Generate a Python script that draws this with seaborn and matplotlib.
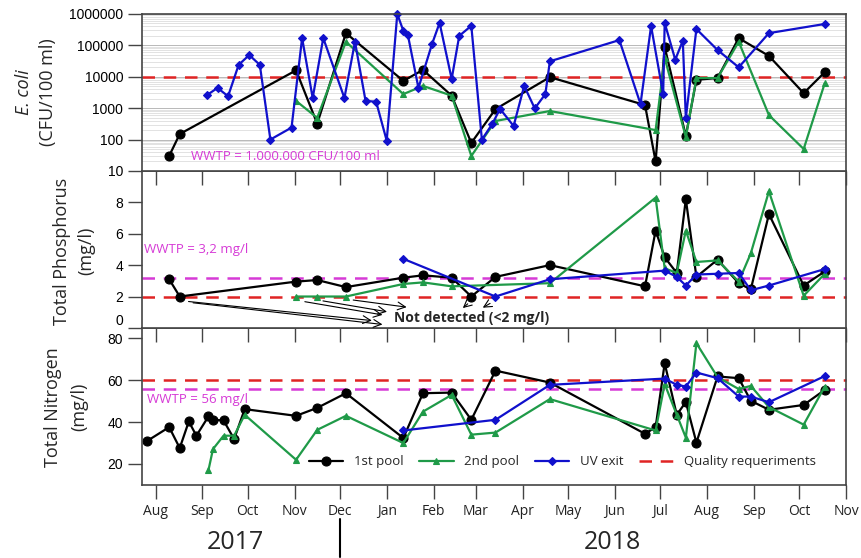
import pandas as pd
import numpy as np
import seaborn as sns
import matplotlib.pyplot as plt
import matplotlib.dates as mdates
from matplotlib.ticker import FuncFormatter, FixedLocator, NullFormatter, LogLocator

# ---------------- data ----------------
# E. coli (CFU/100 ml)
ec_pool1_dates = ["2017-08-10", "2017-08-17", "2017-11-02", "2017-11-16", "2017-12-05", "2018-01-12",
                  "2018-01-25", "2018-02-13", "2018-02-26", "2018-03-14", "2018-04-19", "2018-06-21",
                  "2018-06-28", "2018-07-04", "2018-07-18", "2018-07-25", "2018-08-08", "2018-08-22",
                  "2018-09-11", "2018-10-04", "2018-10-18"]
ec_pool1 = [30, 150, 16000, 320, 245000, 7400, 16500, 2500, 78, 930, 9700, 1250,
            20, 89000, 130, 8000, 9100, 170000, 46000, 3000, 14000]

ec_pool2_dates = ["2017-11-02", "2017-11-16", "2017-12-05", "2018-01-12", "2018-01-25", "2018-02-13",
                  "2018-02-26", "2018-03-14", "2018-04-19", "2018-06-28", "2018-07-04", "2018-07-18",
                  "2018-07-25", "2018-08-08", "2018-08-22", "2018-09-11", "2018-10-04", "2018-10-18"]
ec_pool2 = [1700, 490, 130000, 2800, 5100, 2500, 30, 390, 810, 200, 40000, 120,
            9100, 9100, 130000, 600, 50, 6300]

ec_uv_dates = ["2017-09-04", "2017-09-11", "2017-09-18", "2017-09-25", "2017-10-02", "2017-10-09",
               "2017-10-16", "2017-10-30", "2017-11-06", "2017-11-13", "2017-11-20", "2017-12-04",
               "2017-12-11", "2017-12-18", "2017-12-25", "2018-01-01", "2018-01-08", "2018-01-12",
               "2018-01-15", "2018-01-22", "2018-01-31", "2018-02-05", "2018-02-13", "2018-02-18",
               "2018-02-26", "2018-03-05", "2018-03-12", "2018-03-17", "2018-03-26", "2018-04-02",
               "2018-04-09", "2018-04-16", "2018-04-19", "2018-06-04", "2018-06-18", "2018-06-25",
               "2018-07-03", "2018-07-04", "2018-07-11", "2018-07-16", "2018-07-18", "2018-07-25",
               "2018-08-08", "2018-08-22", "2018-09-11", "2018-10-18"]
ec_uv = [2600, 4400, 2400, 24000, 49000, 24000, 100, 240, 170000, 2100, 170000, 2100,
         130000, 1700, 1600, 92, 1000000, 290000, 215000, 4400, 110000, 520000, 8500, 200000,
         420000, 100, 320, 950, 270, 5100, 980, 2800, 31000, 147000, 1350, 410000,
         2800, 520000, 35000, 140000, 490, 330000, 71000, 20000, 245000, 480000]

# Total phosphorus (mg/l)
tp_pool1_dates = ["2017-08-10", "2017-08-17", "2017-11-02", "2017-11-16", "2017-12-05", "2018-01-12",
                  "2018-01-25", "2018-02-13", "2018-02-26", "2018-03-14", "2018-04-19", "2018-06-21",
                  "2018-06-28", "2018-07-04", "2018-07-12", "2018-07-18", "2018-07-25", "2018-08-08",
                  "2018-08-22", "2018-08-30", "2018-09-11", "2018-10-04", "2018-10-18"]
tp_pool1 = [3.1, 2.0, 2.95, 3.05, 2.6, 3.2, 3.35, 3.2, 2.0, 3.25, 4.0, 2.65,
            6.2, 4.5, 3.5, 8.2, 3.25, 4.35, 2.85, 2.45, 7.25, 2.7, 3.6]

tp_pool2_dates = ["2017-11-02", "2017-11-16", "2017-12-05", "2018-01-12", "2018-01-25", "2018-02-13",
                  "2018-04-19", "2018-06-28", "2018-07-04", "2018-07-12", "2018-07-18", "2018-07-25",
                  "2018-08-08", "2018-08-22", "2018-08-30", "2018-09-11", "2018-10-04", "2018-10-18"]
tp_pool2 = [2.0, 2.0, 2.0, 2.8, 2.9, 2.65, 2.85, 8.3, 3.8, 3.5, 6.2, 4.2,
            4.3, 2.95, 4.75, 8.7, 2.05, 3.45]

tp_uv_dates = ["2018-01-12", "2018-03-14", "2018-04-19", "2018-07-04", "2018-07-12", "2018-07-18",
               "2018-07-25", "2018-08-08", "2018-08-22", "2018-08-30", "2018-09-11", "2018-10-18"]
tp_uv = [4.4, 2.0, 3.1, 3.65, 3.25, 2.7, 3.4, 3.45, 3.5, 2.4, 2.7, 3.75]

# Total nitrogen (mg/l)
tn_pool1_dates = ["2017-07-26", "2017-08-10", "2017-08-17", "2017-08-23", "2017-08-28", "2017-09-05",
                  "2017-09-08", "2017-09-15", "2017-09-22", "2017-09-29", "2017-11-02", "2017-11-16",
                  "2017-12-05", "2018-01-12", "2018-01-25", "2018-02-13", "2018-02-26", "2018-03-14",
                  "2018-04-19", "2018-06-21", "2018-06-28", "2018-07-04", "2018-07-12", "2018-07-18",
                  "2018-07-25", "2018-08-08", "2018-08-22", "2018-08-30", "2018-09-11", "2018-10-04",
                  "2018-10-18"]
tn_pool1 = [30.8, 37.6, 27.6, 40.3, 33.5, 42.7, 41.1, 40.8, 31.9, 46.2, 43.0, 46.8,
            53.8, 32.4, 53.8, 54.1, 41.1, 64.6, 58.9, 34.4, 37.6, 68.1, 43.5, 49.6,
            30.2, 61.8, 61.0, 50.2, 45.9, 48.2, 55.4]

tn_pool2_dates = ["2017-09-05", "2017-09-08", "2017-09-15", "2017-09-22", "2017-09-29", "2017-11-02",
                  "2017-11-16", "2017-12-05", "2018-01-12", "2018-01-25", "2018-02-13", "2018-02-26",
                  "2018-03-14", "2018-04-19", "2018-06-28", "2018-07-04", "2018-07-12", "2018-07-18",
                  "2018-07-25", "2018-08-08", "2018-08-22", "2018-08-30", "2018-09-11", "2018-10-04",
                  "2018-10-18"]
tn_pool2 = [17.0, 27.1, 33.5, 33.5, 43.5, 22.0, 36.3, 43.0, 30.0, 45.0, 53.0, 34.0,
            35.0, 51.0, 36.0, 58.2, 43.5, 32.6, 77.7, 61.5, 55.8, 57.3, 47.2, 38.8, 57.0]

tn_uv_dates = ["2018-01-12", "2018-03-14", "2018-04-19", "2018-07-04", "2018-07-12", "2018-07-18",
               "2018-07-25", "2018-08-08", "2018-08-22", "2018-08-30", "2018-09-11", "2018-10-18"]
tn_uv = [36.0, 41.1, 57.8, 60.8, 57.8, 57.0, 63.7, 61.0, 52.2, 52.2, 49.5, 62.0]

# limits
ec_quality = 10000
tp_quality, tp_wwtp = 2.0, 3.2
tn_quality, tn_wwtp = 60, 56

series_names = ["1st pool", "2nd pool", "UV exit"]
quality_label = "Quality requeriments"

# ---------------- style ----------------
sns.set_theme(style="ticks")
plt.rcParams['font.family'] = ['Open Sans', 'DejaVu Sans']
plt.rcParams['axes.edgecolor'] = '#444444'
plt.rcParams['xtick.color'] = '#444444'
plt.rcParams['ytick.color'] = '#444444'

c_black, c_green, c_blue = "black", "#1f9a48", "#1010cc"
c_red, c_mag = "#e02424", "#d63ad6"
styles = [dict(color=c_black, marker="o", markersize=6.5),
          dict(color=c_green, marker="^", markersize=5),
          dict(color=c_blue, marker="D", markersize=4.5)]
dash = (0, (5, 3.5))

fig, axes = plt.subplots(3, 1, figsize=(8.62, 5.58), dpi=100, sharex=True)
fig.subplots_adjust(left=0.1647, right=0.9814, top=0.975, bottom=0.131, hspace=0)


def draw(ax, groups):
    for (dates, vals), name, st in zip(groups, series_names, styles):
        df = pd.DataFrame({"date": pd.to_datetime(dates), "val": vals})
        sns.lineplot(data=df, x="date", y="val", ax=ax, estimator=None, label=name,
                     color=st["color"], marker=st["marker"], markersize=st["markersize"],
                     markeredgecolor=st["color"], markeredgewidth=0.8, linewidth=1.6)
    ax.set_xlabel("")
    ax.set_ylabel("")
    if ax.get_legend() is not None:
        ax.get_legend().remove()


ax1, ax2, ax3 = axes
# upper panels drawn last so their outward x ticks show inside the panel below
ax1.set_zorder(3)
ax2.set_zorder(2)
ax3.set_zorder(1)

# E. coli
draw(ax1, [(ec_pool1_dates, ec_pool1), (ec_pool2_dates, ec_pool2), (ec_uv_dates, ec_uv)])
ax1.set_yscale("log")
ax1.set_ylim(10, 1000000)
ax1.yaxis.set_major_locator(FixedLocator([10, 100, 1000, 10000, 100000, 1000000]))
ax1.yaxis.set_major_formatter(FuncFormatter(lambda v, p: f"{int(round(v))}"))
ax1.yaxis.set_minor_locator(LogLocator(base=10, subs=np.arange(2, 10)))
ax1.yaxis.set_minor_formatter(NullFormatter())
ax1.grid(which="major", axis="y", color="#b8b8b8", lw=0.7)
ax1.grid(which="minor", axis="y", color="#dddddd", lw=0.6)
ax1.set_axisbelow(True)
ax1.axhline(ec_quality, color=c_red, ls=dash, lw=1.8, zorder=1)
ax1.text(0.07, 0.09, "WWTP = 1.000.000 CFU/100 ml", transform=ax1.transAxes,
         color=c_mag, fontsize=9.5, va="center", ha="left")
ax1.text(-0.1676, 0.5, "E. coli", transform=ax1.transAxes, rotation=90, fontsize=13,
         style="italic", ha="center", va="center")
ax1.text(-0.1335, 0.5, "(CFU/100 ml)", transform=ax1.transAxes, rotation=90, fontsize=13,
         ha="center", va="center")

# Total phosphorus
draw(ax2, [(tp_pool1_dates, tp_pool1), (tp_pool2_dates, tp_pool2), (tp_uv_dates, tp_uv)])
ax2.set_ylim(0, 10)
ax2.set_yticks([0, 2, 4, 6, 8])
ax2.axhline(tp_quality, color=c_red, ls=dash, lw=1.8, zorder=1)
ax2.axhline(tp_wwtp, color=c_mag, ls=dash, lw=1.8, zorder=1)
ax2.text(0.003, 0.5, "WWTP = 3,2 mg/l", transform=ax2.transAxes, color=c_mag,
         fontsize=9.5, va="center", ha="left")
ax2.text(-0.113, 0.49, "Total Phosphorus", transform=ax2.transAxes, rotation=90, fontsize=13,
         ha="center", va="center")
ax2.text(-0.0795, 0.49, "(mg/l)", transform=ax2.transAxes, rotation=90, fontsize=13,
         ha="center", va="center")

# "Not detected" arrows
ax2.text(pd.Timestamp("2018-01-06"), 0.6, "Not detected (<2 mg/l)", fontsize=10,
         fontweight="bold", ha="left", va="center")
arrows = [("2017-08-21", 1.7, "2017-12-24", 0.45),
          ("2017-08-24", 1.62, "2017-12-31", 0.2),
          ("2017-11-06", 1.7, "2017-12-31", 0.8),
          ("2017-11-18", 1.75, "2018-01-03", 1.0),
          ("2017-12-08", 1.8, "2018-01-16", 1.3),
          ("2018-02-25", 1.65, "2018-02-19", 1.15),
          ("2018-03-12", 1.65, "2018-03-04", 1.2)]
for d0, y0, d1, y1 in arrows:
    ax2.annotate("", xy=(pd.Timestamp(d1), y1), xytext=(pd.Timestamp(d0), y0),
                 arrowprops=dict(arrowstyle="->", color="black", lw=0.8, mutation_scale=14))

# Total nitrogen
draw(ax3, [(tn_pool1_dates, tn_pool1), (tn_pool2_dates, tn_pool2), (tn_uv_dates, tn_uv)])
ax3.set_ylim(10, 85)
ax3.set_yticks([20, 40, 60, 80])
ax3.axhline(tn_quality, color=c_red, ls=dash, lw=1.8, zorder=1, label=quality_label)
ax3.axhline(tn_wwtp, color=c_mag, ls=dash, lw=1.8, zorder=1)
ax3.text(0.007, 0.545, "WWTP = 56 mg/l", transform=ax3.transAxes, color=c_mag,
         fontsize=9.5, va="center", ha="left")
ax3.text(-0.1265, 0.497, "Total Nitrogen", transform=ax3.transAxes, rotation=90, fontsize=13,
         ha="center", va="center")
ax3.text(-0.0895, 0.497, "(mg/l)", transform=ax3.transAxes, rotation=90, fontsize=13,
         ha="center", va="center")
handles, labels = ax3.get_legend_handles_labels()
ax3.legend(handles, labels, ncol=4, frameon=False, fontsize=9.5, loc="center right",
           bbox_to_anchor=(0.965, 0.146), handlelength=2.6, handletextpad=0.8,
           columnspacing=1.2, borderaxespad=0)

# axes / ticks
for ax in axes:
    ax.set_xlim(pd.Timestamp("2017-07-23"), pd.Timestamp("2018-11-01"))
    ax.xaxis.set_major_locator(mdates.MonthLocator())
    ax.xaxis.set_major_formatter(mdates.DateFormatter("%b"))
    ax.tick_params(axis="x", which="major", direction="out", length=10, width=1,
                   bottom=True, top=False, labelsize=10, labelcolor="#222222")
    ax.tick_params(axis="x", which="minor", length=0)
    ax.tick_params(axis="y", which="major", direction="out", length=10, width=1, labelsize=10,
                   labelfontfamily="Liberation Sans", labelcolor="black")
    ax.tick_params(axis="y", which="minor", length=0)
    for s in ax.spines.values():
        s.set_linewidth(1.2)
    for ln in ax.get_lines():
        ln.set_clip_on(False)
for ax in (ax1, ax2):
    ax.tick_params(axis="x", labelbottom=False)

# keep the "0" of the phosphorus panel clear of the "80" below it
fig.canvas.draw()
for lab in ax2.get_yticklabels():
    if lab.get_text() == "0":
        lab.set_verticalalignment("bottom")

# year labels
ax3.text(0.132, -0.37, "2017", transform=ax3.transAxes, fontsize=18, ha="center", va="center")
ax3.text(0.668, -0.37, "2018", transform=ax3.transAxes, fontsize=18, ha="center", va="center")
trans = ax3.get_xaxis_transform()
ax3.plot([pd.Timestamp("2017-12-01")] * 2, [-0.22, -0.46], transform=trans, color="black",
         lw=1.5, clip_on=False)

fig.savefig("out.png", dpi=100)
